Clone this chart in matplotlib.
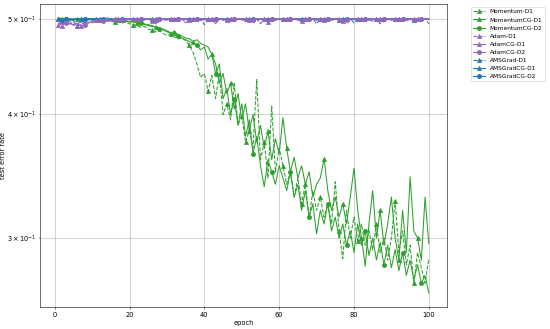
import matplotlib
matplotlib.use("Agg")
import matplotlib.pyplot as plt
import numpy as np

epochs = list(range(1, 101))

momentum_d1 = [
    0.499, 0.500, 0.498, 0.499, 0.500, 0.499, 0.498, 0.500, 0.499, 0.499,
    0.498, 0.499, 0.497, 0.498, 0.497, 0.496, 0.497, 0.495, 0.496, 0.494,
    0.493, 0.492, 0.490, 0.491, 0.488, 0.487, 0.485, 0.486, 0.483, 0.481,
    0.482, 0.479, 0.477, 0.478, 0.475, 0.470, 0.462, 0.450, 0.436, 0.440,
    0.422, 0.438, 0.415, 0.440, 0.400, 0.410, 0.395, 0.430, 0.390, 0.400,
    0.375, 0.385, 0.370, 0.434, 0.360, 0.375, 0.345, 0.408, 0.350, 0.370,
    0.355, 0.340, 0.350, 0.330, 0.345, 0.325, 0.340, 0.315, 0.335, 0.320,
    0.330, 0.315, 0.325, 0.310, 0.342, 0.305, 0.286, 0.320, 0.300, 0.315,
    0.298, 0.310, 0.295, 0.305, 0.292, 0.310, 0.290, 0.300, 0.285, 0.300,
    0.327, 0.290, 0.305, 0.282, 0.295, 0.270, 0.290, 0.280, 0.270, 0.286,
]
momentumcg_d1 = [
    0.500, 0.499, 0.500, 0.499, 0.498, 0.500, 0.499, 0.499, 0.500, 0.498,
    0.499, 0.498, 0.499, 0.497, 0.498, 0.497, 0.498, 0.496, 0.497, 0.496,
    0.496, 0.495, 0.494, 0.494, 0.492, 0.491, 0.490, 0.489, 0.488, 0.486,
    0.484, 0.485, 0.482, 0.480, 0.478, 0.477, 0.474, 0.476, 0.472, 0.470,
    0.468, 0.460, 0.450, 0.430, 0.440, 0.420, 0.430, 0.405, 0.420, 0.395,
    0.410, 0.385, 0.400, 0.375, 0.390, 0.370, 0.385, 0.360, 0.378, 0.365,
    0.397, 0.370, 0.350, 0.362, 0.345, 0.355, 0.340, 0.350, 0.330, 0.340,
    0.345, 0.361, 0.335, 0.320, 0.330, 0.315, 0.325, 0.310, 0.330, 0.353,
    0.320, 0.300, 0.281, 0.310, 0.335, 0.300, 0.320, 0.295, 0.310, 0.330,
    0.300, 0.285, 0.320, 0.290, 0.346, 0.305, 0.300, 0.285, 0.330, 0.296,
]
momentumcg_d2 = [
    0.501, 0.500, 0.499, 0.500, 0.499, 0.500, 0.500, 0.499, 0.499, 0.500,
    0.500, 0.499, 0.498, 0.499, 0.498, 0.499, 0.497, 0.498, 0.497, 0.497,
    0.497, 0.496, 0.495, 0.493, 0.493, 0.492, 0.490, 0.488, 0.487, 0.485,
    0.483, 0.481, 0.480, 0.478, 0.476, 0.474, 0.472, 0.470, 0.465, 0.468,
    0.455, 0.460, 0.440, 0.450, 0.415, 0.425, 0.400, 0.415, 0.390, 0.410,
    0.380, 0.395, 0.365, 0.380, 0.355, 0.338, 0.360, 0.350, 0.340, 0.355,
    0.345, 0.335, 0.350, 0.330, 0.340, 0.320, 0.335, 0.315, 0.325, 0.303,
    0.320, 0.310, 0.325, 0.305, 0.315, 0.300, 0.310, 0.295, 0.305, 0.290,
    0.310, 0.295, 0.305, 0.288, 0.300, 0.285, 0.297, 0.282, 0.295, 0.280,
    0.292, 0.278, 0.290, 0.275, 0.285, 0.272, 0.282, 0.270, 0.275, 0.264,
]
adam_d1 = [
    0.493, 0.495, 0.497, 0.494, 0.496, 0.492, 0.493, 0.496, 0.495, 0.497,
    0.498, 0.496, 0.499, 0.497, 0.498, 0.499, 0.497, 0.499, 0.498, 0.500,
    0.499, 0.500, 0.498, 0.499, 0.500, 0.497, 0.499, 0.500, 0.498, 0.499,
    0.500, 0.499, 0.497, 0.500, 0.499, 0.498, 0.500, 0.499, 0.500, 0.498,
    0.499, 0.500, 0.497, 0.499, 0.500, 0.498, 0.500, 0.499, 0.500, 0.498,
    0.499, 0.500, 0.499, 0.497, 0.500, 0.499, 0.500, 0.498, 0.499, 0.500,
    0.499, 0.498, 0.500, 0.499, 0.500, 0.497, 0.499, 0.500, 0.499, 0.498,
    0.500, 0.499, 0.500, 0.498, 0.499, 0.500, 0.499, 0.497, 0.500, 0.499,
    0.500, 0.498, 0.499, 0.500, 0.499, 0.500, 0.498, 0.499, 0.500, 0.499,
    0.500, 0.499, 0.498, 0.500, 0.499, 0.500, 0.499, 0.498, 0.500, 0.499,
]
adamcg_d1 = [
    0.495, 0.492, 0.496, 0.494, 0.493, 0.495, 0.491, 0.494, 0.496, 0.495,
    0.497, 0.498, 0.496, 0.499, 0.498, 0.497, 0.499, 0.498, 0.500, 0.499,
    0.500, 0.499, 0.497, 0.500, 0.499, 0.500, 0.498, 0.499, 0.500, 0.499,
    0.498, 0.500, 0.499, 0.500, 0.495, 0.499, 0.500, 0.499, 0.498, 0.500,
    0.499, 0.500, 0.494, 0.500, 0.499, 0.498, 0.500, 0.499, 0.500, 0.499,
    0.500, 0.498, 0.499, 0.500, 0.499, 0.500, 0.496, 0.500, 0.499, 0.500,
    0.498, 0.500, 0.499, 0.500, 0.499, 0.496, 0.500, 0.499, 0.500, 0.499,
    0.500, 0.498, 0.499, 0.500, 0.499, 0.500, 0.497, 0.499, 0.500, 0.499,
    0.500, 0.499, 0.498, 0.500, 0.499, 0.500, 0.499, 0.496, 0.500, 0.499,
    0.500, 0.499, 0.500, 0.498, 0.499, 0.500, 0.499, 0.500, 0.499, 0.500,
]
adamcg_d2 = [
    0.497, 0.494, 0.495, 0.497, 0.492, 0.494, 0.496, 0.493, 0.495, 0.497,
    0.496, 0.498, 0.497, 0.499, 0.497, 0.498, 0.500, 0.498, 0.499, 0.500,
    0.499, 0.498, 0.500, 0.499, 0.500, 0.499, 0.498, 0.500, 0.499, 0.500,
    0.499, 0.498, 0.500, 0.499, 0.500, 0.497, 0.500, 0.499, 0.500, 0.499,
    0.498, 0.500, 0.499, 0.500, 0.499, 0.500, 0.498, 0.500, 0.499, 0.500,
    0.499, 0.500, 0.498, 0.499, 0.500, 0.499, 0.500, 0.499, 0.498, 0.500,
    0.499, 0.500, 0.499, 0.500, 0.498, 0.499, 0.500, 0.499, 0.500, 0.499,
    0.498, 0.500, 0.499, 0.500, 0.499, 0.500, 0.499, 0.498, 0.500, 0.499,
    0.500, 0.499, 0.500, 0.498, 0.500, 0.499, 0.500, 0.499, 0.500, 0.498,
    0.499, 0.500, 0.499, 0.500, 0.499, 0.498, 0.500, 0.499, 0.500, 0.499,
]
amsgrad_d1 = [
    0.500, 0.498, 0.499, 0.500, 0.497, 0.491, 0.499, 0.500, 0.498, 0.500,
    0.499, 0.500, 0.498, 0.499, 0.500, 0.499, 0.500, 0.498, 0.500, 0.499,
    0.500, 0.499, 0.500, 0.498, 0.500, 0.499, 0.494, 0.499, 0.500, 0.498,
    0.499, 0.500, 0.496, 0.500, 0.499, 0.500, 0.499, 0.500, 0.499, 0.493,
    0.499, 0.500, 0.499, 0.500, 0.498, 0.500, 0.499, 0.500, 0.499, 0.500,
    0.499, 0.500, 0.497, 0.500, 0.494, 0.500, 0.499, 0.500, 0.498, 0.500,
    0.499, 0.500, 0.499, 0.500, 0.499, 0.500, 0.499, 0.497, 0.500, 0.494,
    0.500, 0.499, 0.500, 0.499, 0.500, 0.498, 0.500, 0.499, 0.500, 0.495,
    0.500, 0.499, 0.500, 0.499, 0.497, 0.500, 0.494, 0.500, 0.499, 0.500,
    0.499, 0.500, 0.499, 0.500, 0.499, 0.498, 0.500, 0.499, 0.500, 0.494,
]
amsgradcg_d1 = [
    0.499, 0.497, 0.500, 0.499, 0.498, 0.500, 0.499, 0.495, 0.499, 0.500,
    0.499, 0.500, 0.499, 0.501, 0.499, 0.500, 0.499, 0.500, 0.498, 0.500,
    0.499, 0.500, 0.499, 0.500, 0.499, 0.500, 0.499, 0.500, 0.499, 0.500,
    0.499, 0.500, 0.499, 0.500, 0.499, 0.500, 0.499, 0.500, 0.499, 0.500,
    0.499, 0.500, 0.499, 0.500, 0.499, 0.500, 0.499, 0.500, 0.499, 0.500,
    0.499, 0.500, 0.499, 0.500, 0.499, 0.500, 0.499, 0.500, 0.499, 0.500,
    0.499, 0.500, 0.499, 0.500, 0.499, 0.500, 0.499, 0.500, 0.499, 0.500,
    0.499, 0.500, 0.499, 0.500, 0.499, 0.500, 0.499, 0.500, 0.499, 0.500,
    0.499, 0.500, 0.499, 0.500, 0.499, 0.500, 0.499, 0.500, 0.499, 0.500,
    0.499, 0.500, 0.499, 0.500, 0.499, 0.500, 0.499, 0.500, 0.499, 0.500,
]
amsgradcg_d2 = [
    0.500, 0.499, 0.500, 0.498, 0.500, 0.499, 0.500, 0.499, 0.500, 0.499,
    0.500, 0.499, 0.500, 0.499, 0.500, 0.498, 0.500, 0.499, 0.500, 0.499,
    0.500, 0.499, 0.500, 0.499, 0.500, 0.499, 0.500, 0.499, 0.500, 0.499,
    0.500, 0.499, 0.500, 0.499, 0.500, 0.499, 0.500, 0.499, 0.500, 0.499,
    0.500, 0.499, 0.500, 0.499, 0.500, 0.499, 0.500, 0.499, 0.500, 0.499,
    0.500, 0.499, 0.500, 0.499, 0.500, 0.499, 0.500, 0.499, 0.500, 0.499,
    0.500, 0.499, 0.500, 0.499, 0.500, 0.499, 0.500, 0.499, 0.500, 0.499,
    0.500, 0.499, 0.500, 0.499, 0.500, 0.499, 0.500, 0.499, 0.500, 0.499,
    0.500, 0.499, 0.500, 0.499, 0.500, 0.499, 0.500, 0.499, 0.500, 0.499,
    0.500, 0.499, 0.500, 0.499, 0.500, 0.499, 0.500, 0.499, 0.500, 0.499,
]

series = [
    ("Momentum-D1", momentum_d1, "tab:green", "--", "^"),
    ("MomentumCG-D1", momentumcg_d1, "tab:green", "-", "^"),
    ("MomentumCG-D2", momentumcg_d2, "tab:green", "-", "o"),
    ("Adam-D1", adam_d1, "tab:purple", "--", "^"),
    ("AdamCG-D1", adamcg_d1, "tab:purple", "-", "^"),
    ("AdamCG-D2", adamcg_d2, "tab:purple", "-", "o"),
    ("AMSGrad-D1", amsgrad_d1, "tab:blue", "--", "^"),
    ("AMSGradCG-D1", amsgradcg_d1, "tab:blue", "-", "^"),
    ("AMSGradCG-D2", amsgradcg_d2, "tab:blue", "-", "o"),
]

plt.rcParams["font.size"] = 9.5
fig = plt.figure(figsize=(11, 6.58), dpi=50)
ax = fig.add_axes([0.0727, 0.0678, 0.7406, 0.92])
for i, (name, vals, color, ls, mk) in enumerate(series):
    z = 3 if color == "tab:purple" else 2
    ax.plot(epochs, vals, color=color, linestyle=ls, marker=mk,
            markevery=(i % 3, 5), label=name, zorder=z)
ax.set_yscale("log")
ax.grid(True, which="both")
ax.set_xlabel("epoch")
ax.set_ylabel("test error rate", labelpad=2)
ax.legend(bbox_to_anchor=(1.05, 1), loc="upper left", fontsize=8.5)
fig.savefig("out.png", dpi=50)
